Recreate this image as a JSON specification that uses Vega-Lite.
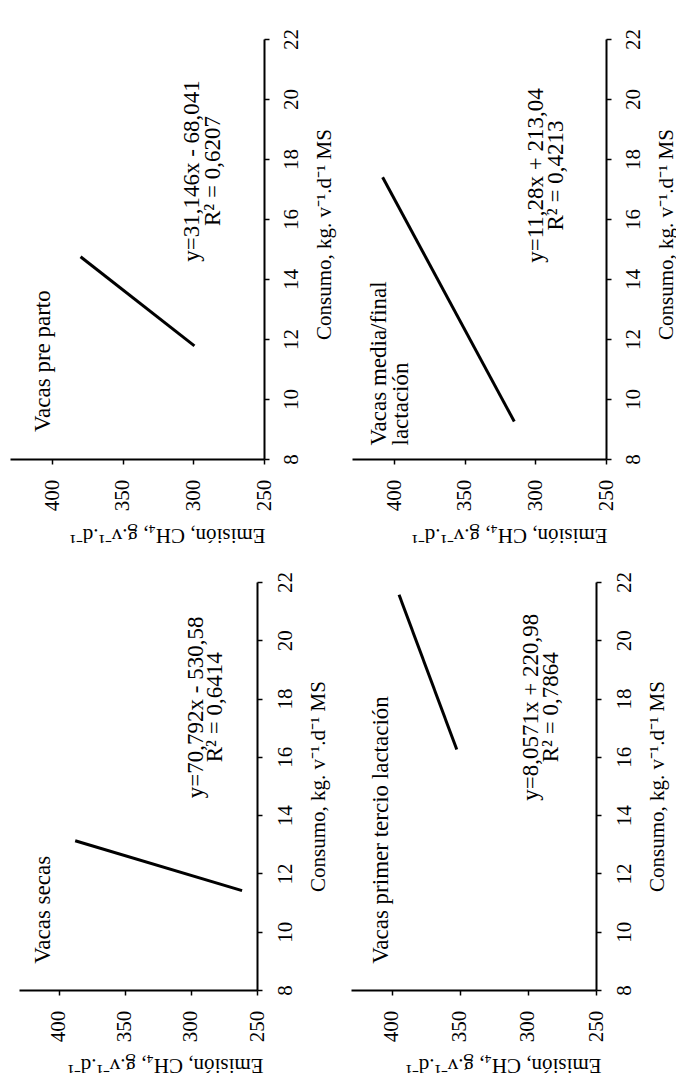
{
  "$schema": "https://vega.github.io/schema/vega-lite/v6.json",
  "background": "white",
  "padding": {"left": 10, "top": 28, "right": 0, "bottom": 7},
  "config": {
    "view": {"stroke": null},
    "font": "Liberation Serif",
    "axis": {
      "grid": false,
      "domainColor": "black",
      "domainWidth": 2,
      "tickColor": "black",
      "tickWidth": 1.5,
      "tickSize": 5,
      "labelColor": "black",
      "labelFont": "Liberation Serif",
      "labelFontSize": 21,
      "labelOverlap": false,
      "labelFlush": false,
      "titleColor": "black",
      "titleFont": "Liberation Serif",
      "titleFontSize": 21,
      "titleFontWeight": "normal"
    }
  },
  "datasets": {
    "lines": [
      {"panel": "pre", "consumo": 11.77, "emision": 299.3},
      {"panel": "pre", "consumo": 14.74, "emision": 380},
      {"panel": "media", "consumo": 9.25, "emision": 315},
      {"panel": "media", "consumo": 17.39, "emision": 408.3},
      {"panel": "secas", "consumo": 11.41, "emision": 261.3},
      {"panel": "secas", "consumo": 13.12, "emision": 387.5},
      {"panel": "primer", "consumo": 16.25, "emision": 352.3},
      {"panel": "primer", "consumo": 21.56, "emision": 394.7}
    ],
    "texts": [
      {"panel": "pre", "kind": "label", "text": "Vacas pre parto", "emision": 406.8, "consumo": 8.9},
      {"panel": "pre", "kind": "eq", "text": "y=31,146x - 68,041", "emision": 301, "consumo": 17.6},
      {"panel": "pre", "kind": "eq", "text": "R² = 0,6207", "emision": 286, "consumo": 17.6},
      {"panel": "media", "kind": "label", "text": "Vacas media/final", "emision": 410.6, "consumo": 8.45},
      {"panel": "media", "kind": "label", "text": "lactación", "emision": 395.3, "consumo": 8.45},
      {"panel": "media", "kind": "eq", "text": "y=11,28x + 213,04", "emision": 299.6, "consumo": 17.45},
      {"panel": "media", "kind": "eq", "text": "R² = 0,4213", "emision": 285.5, "consumo": 17.45},
      {"panel": "secas", "kind": "label", "text": "Vacas secas", "emision": 412, "consumo": 8.9},
      {"panel": "secas", "kind": "eq", "text": "y=70,792x - 530,58", "emision": 296, "consumo": 17.7},
      {"panel": "secas", "kind": "eq", "text": "R² = 0,6414", "emision": 282, "consumo": 17.7},
      {"panel": "primer", "kind": "label", "text": "Vacas primer tercio lactación", "emision": 408.3, "consumo": 8.9},
      {"panel": "primer", "kind": "eq", "text": "y=8,0571x + 220,98", "emision": 298, "consumo": 17.7},
      {"panel": "primer", "kind": "eq", "text": "R² = 0,7864", "emision": 283.3, "consumo": 17.7}
    ]
  },
  "vconcat": [
    {
      "spacing": 18,
      "hconcat": [
        {
          "width": 254, "height": 420,
          "layer": [
            {
              "data": {"name": "lines"},
              "transform": [{"filter": "datum.panel === 'pre'"}],
              "mark": {"type": "line", "color": "black", "strokeWidth": 3},
              "encoding": {
                "x": {"field": "emision", "type": "quantitative", "scale": {"domain": [250, 430], "reverse": true, "nice": false, "zero": false},
                  "axis": {"orient": "bottom", "values": [250, 300, 350, 400], "title": "Emisión, CH₄, g.v⁻¹.d⁻¹", "titleAngle": 180, "titleX": 157, "titleY": 75, "titleAlign": "center", "titleBaseline": "middle", "labelAngle": 270, "labelAlign": "center", "labelBaseline": "middle", "labelPadding": 31}},
                "y": {"field": "consumo", "type": "quantitative", "scale": {"domain": [8, 22], "nice": false, "zero": false},
                  "axis": {"orient": "right", "values": [8, 10, 12, 14, 16, 18, 20, 22], "title": "Consumo, kg. v⁻¹.d⁻¹ MS", "titleAngle": 270, "titleX": 60, "titleY": 195, "titleAlign": "center", "titleBaseline": "middle", "labelAngle": 270, "labelAlign": "center", "labelBaseline": "middle", "labelPadding": 22}}
              }
            },
            {
              "data": {"name": "texts"},
              "transform": [{"filter": "datum.panel === 'pre' && datum.kind === 'label'"}],
              "mark": {"type": "text", "angle": 270, "align": "left", "baseline": "middle", "font": "Liberation Serif", "fontSize": 23, "color": "black"},
              "encoding": {"x": {"field": "emision", "type": "quantitative"}, "y": {"field": "consumo", "type": "quantitative"}, "text": {"field": "text"}}
            },
            {
              "data": {"name": "texts"},
              "transform": [{"filter": "datum.panel === 'pre' && datum.kind === 'eq'"}],
              "mark": {"type": "text", "angle": 270, "align": "center", "baseline": "middle", "font": "Liberation Serif", "fontSize": 23, "color": "black"},
              "encoding": {"x": {"field": "emision", "type": "quantitative"}, "y": {"field": "consumo", "type": "quantitative"}, "text": {"field": "text"}}
            }
          ]
        },
        {
          "width": 254, "height": 420,
          "layer": [
            {
              "data": {"name": "lines"},
              "transform": [{"filter": "datum.panel === 'media'"}],
              "mark": {"type": "line", "color": "black", "strokeWidth": 3},
              "encoding": {
                "x": {"field": "emision", "type": "quantitative", "scale": {"domain": [250, 430], "reverse": true, "nice": false, "zero": false},
                  "axis": {"orient": "bottom", "values": [250, 300, 350, 400], "title": "Emisión, CH₄, g.v⁻¹.d⁻¹", "titleAngle": 180, "titleX": 157, "titleY": 75, "titleAlign": "center", "titleBaseline": "middle", "labelAngle": 270, "labelAlign": "center", "labelBaseline": "middle", "labelPadding": 31}},
                "y": {"field": "consumo", "type": "quantitative", "scale": {"domain": [8, 22], "nice": false, "zero": false},
                  "axis": {"orient": "right", "values": [8, 10, 12, 14, 16, 18, 20, 22], "title": "Consumo, kg. v⁻¹.d⁻¹ MS", "titleAngle": 270, "titleX": 60, "titleY": 195, "titleAlign": "center", "titleBaseline": "middle", "labelAngle": 270, "labelAlign": "center", "labelBaseline": "middle", "labelPadding": 22}}
              }
            },
            {
              "data": {"name": "texts"},
              "transform": [{"filter": "datum.panel === 'media' && datum.kind === 'label'"}],
              "mark": {"type": "text", "angle": 270, "align": "left", "baseline": "middle", "font": "Liberation Serif", "fontSize": 23, "color": "black"},
              "encoding": {"x": {"field": "emision", "type": "quantitative"}, "y": {"field": "consumo", "type": "quantitative"}, "text": {"field": "text"}}
            },
            {
              "data": {"name": "texts"},
              "transform": [{"filter": "datum.panel === 'media' && datum.kind === 'eq'"}],
              "mark": {"type": "text", "angle": 270, "align": "center", "baseline": "middle", "font": "Liberation Serif", "fontSize": 23, "color": "black"},
              "encoding": {"x": {"field": "emision", "type": "quantitative"}, "y": {"field": "consumo", "type": "quantitative"}, "text": {"field": "text"}}
            }
          ]
        }
      ]
    },
    {
      "spacing": 23,
      "hconcat": [
        {
          "width": 238, "height": 408,
          "layer": [
            {
              "data": {"name": "lines"},
              "transform": [{"filter": "datum.panel === 'secas'"}],
              "mark": {"type": "line", "color": "black", "strokeWidth": 3},
              "encoding": {
                "x": {"field": "emision", "type": "quantitative", "scale": {"domain": [250, 430], "reverse": true, "nice": false, "zero": false},
                  "axis": {"orient": "bottom", "values": [250, 300, 350, 400], "title": "Emisión, CH₄, g.v⁻¹.d⁻¹", "titleAngle": 180, "titleX": 146, "titleY": 74, "titleAlign": "center", "titleBaseline": "middle", "labelAngle": 270, "labelAlign": "center", "labelBaseline": "middle", "labelPadding": 31}},
                "y": {"field": "consumo", "type": "quantitative", "scale": {"domain": [8, 22], "nice": false, "zero": false},
                  "axis": {"orient": "right", "values": [8, 10, 12, 14, 16, 18, 20, 22], "title": "Consumo, kg. v⁻¹.d⁻¹ MS", "titleAngle": 270, "titleX": 61, "titleAlign": "center", "titleBaseline": "middle", "labelAngle": 270, "labelAlign": "center", "labelBaseline": "middle", "labelPadding": 23}}
              }
            },
            {
              "data": {"name": "texts"},
              "transform": [{"filter": "datum.panel === 'secas' && datum.kind === 'label'"}],
              "mark": {"type": "text", "angle": 270, "align": "left", "baseline": "middle", "font": "Liberation Serif", "fontSize": 23, "color": "black"},
              "encoding": {"x": {"field": "emision", "type": "quantitative"}, "y": {"field": "consumo", "type": "quantitative"}, "text": {"field": "text"}}
            },
            {
              "data": {"name": "texts"},
              "transform": [{"filter": "datum.panel === 'secas' && datum.kind === 'eq'"}],
              "mark": {"type": "text", "angle": 270, "align": "center", "baseline": "middle", "font": "Liberation Serif", "fontSize": 23, "color": "black"},
              "encoding": {"x": {"field": "emision", "type": "quantitative"}, "y": {"field": "consumo", "type": "quantitative"}, "text": {"field": "text"}}
            }
          ]
        },
        {
          "width": 245, "height": 408,
          "layer": [
            {
              "data": {"name": "lines"},
              "transform": [{"filter": "datum.panel === 'primer'"}],
              "mark": {"type": "line", "color": "black", "strokeWidth": 3},
              "encoding": {
                "x": {"field": "emision", "type": "quantitative", "scale": {"domain": [250, 430], "reverse": true, "nice": false, "zero": false},
                  "axis": {"orient": "bottom", "values": [250, 300, 350, 400], "title": "Emisión, CH₄, g.v⁻¹.d⁻¹", "titleAngle": 180, "titleX": 152, "titleY": 74, "titleAlign": "center", "titleBaseline": "middle", "labelAngle": 270, "labelAlign": "center", "labelBaseline": "middle", "labelPadding": 31}},
                "y": {"field": "consumo", "type": "quantitative", "scale": {"domain": [8, 22], "nice": false, "zero": false},
                  "axis": {"orient": "right", "values": [8, 10, 12, 14, 16, 18, 20, 22], "title": "Consumo, kg. v⁻¹.d⁻¹ MS", "titleAngle": 270, "titleX": 61, "titleAlign": "center", "titleBaseline": "middle", "labelAngle": 270, "labelAlign": "center", "labelBaseline": "middle", "labelPadding": 23}}
              }
            },
            {
              "data": {"name": "texts"},
              "transform": [{"filter": "datum.panel === 'primer' && datum.kind === 'label'"}],
              "mark": {"type": "text", "angle": 270, "align": "left", "baseline": "middle", "font": "Liberation Serif", "fontSize": 23, "color": "black"},
              "encoding": {"x": {"field": "emision", "type": "quantitative"}, "y": {"field": "consumo", "type": "quantitative"}, "text": {"field": "text"}}
            },
            {
              "data": {"name": "texts"},
              "transform": [{"filter": "datum.panel === 'primer' && datum.kind === 'eq'"}],
              "mark": {"type": "text", "angle": 270, "align": "center", "baseline": "middle", "font": "Liberation Serif", "fontSize": 23, "color": "black"},
              "encoding": {"x": {"field": "emision", "type": "quantitative"}, "y": {"field": "consumo", "type": "quantitative"}, "text": {"field": "text"}}
            }
          ]
        }
      ]
    }
  ],
  "spacing": 26,
  "center": true
}
